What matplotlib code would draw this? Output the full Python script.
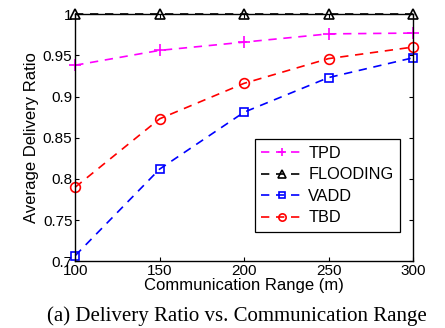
import matplotlib
matplotlib.use("Agg")
import matplotlib.pyplot as plt
from matplotlib.ticker import FuncFormatter

ranges = [100, 150, 200, 250, 300]
tpd = [0.938, 0.956, 0.966, 0.976, 0.977]
flooding = [1.0, 1.0, 1.0, 1.0, 1.0]
vadd = [0.707, 0.812, 0.881, 0.923, 0.947]
tbd = [0.790, 0.873, 0.916, 0.946, 0.960]
yticks = [0.7, 0.75, 0.8, 0.85, 0.9, 0.95, 1.0]

plt.rcParams['font.family'] = ['Liberation Sans', 'DejaVu Sans']
fig = plt.figure(figsize=(4.45, 3.28), dpi=100)
ax = fig.add_axes([0.169, 0.203, 0.759, 0.754])

dash = (0, (5, 4))
ax.plot(ranges, tpd, color='#ff00ff', linestyle=dash, marker='+', markersize=8, mew=1.2, lw=1.2, label='TPD', clip_on=False)
ax.plot(ranges, flooding, color='black', linestyle=dash, marker='^', markersize=7, mew=1.2, mfc='none', lw=1.2, label='FLOODING', clip_on=False)
ax.plot(ranges, vadd, color='#0000ff', linestyle=dash, marker='s', markersize=6, mew=1.2, mfc='none', lw=1.2, label='VADD', clip_on=False)
ax.plot(ranges, tbd, color='#ff0000', linestyle=dash, marker='o', markersize=7, mew=1.2, mfc='none', lw=1.2, label='TBD', clip_on=False)

ax.set_xlim(100, 300)
ax.set_ylim(0.7, 1.0)
ax.set_xticks(ranges)
ax.set_yticks(yticks)
ax.yaxis.set_major_formatter(FuncFormatter(lambda v, p: ('%g' % v)))
ax.tick_params(direction='in', top=True, right=True, labelsize=11, length=3, pad=2)
for s in ax.spines.values():
    s.set_linewidth(1.0)
ax.set_xlabel('Communication Range (m)', fontsize=12, labelpad=0)
ax.set_ylabel('Average Delivery Ratio', fontsize=12, labelpad=3)

leg = ax.legend(loc='lower right', bbox_to_anchor=(0.962, 0.119), fontsize=11.7, fancybox=False,
                edgecolor='black', framealpha=1, handlelength=2.6, borderpad=0.4,
                labelspacing=0.4, handletextpad=0.3, borderaxespad=0, markerscale=0.75)
leg.get_frame().set_linewidth(0.9)

fig.text(0.532, 1 - 321 / 328, '(a) Delivery Ratio vs. Communication Range', ha='center', va='baseline',
         fontsize=15, family=['Liberation Serif', 'DejaVu Serif'])

fig.savefig('out.png', dpi=100)
